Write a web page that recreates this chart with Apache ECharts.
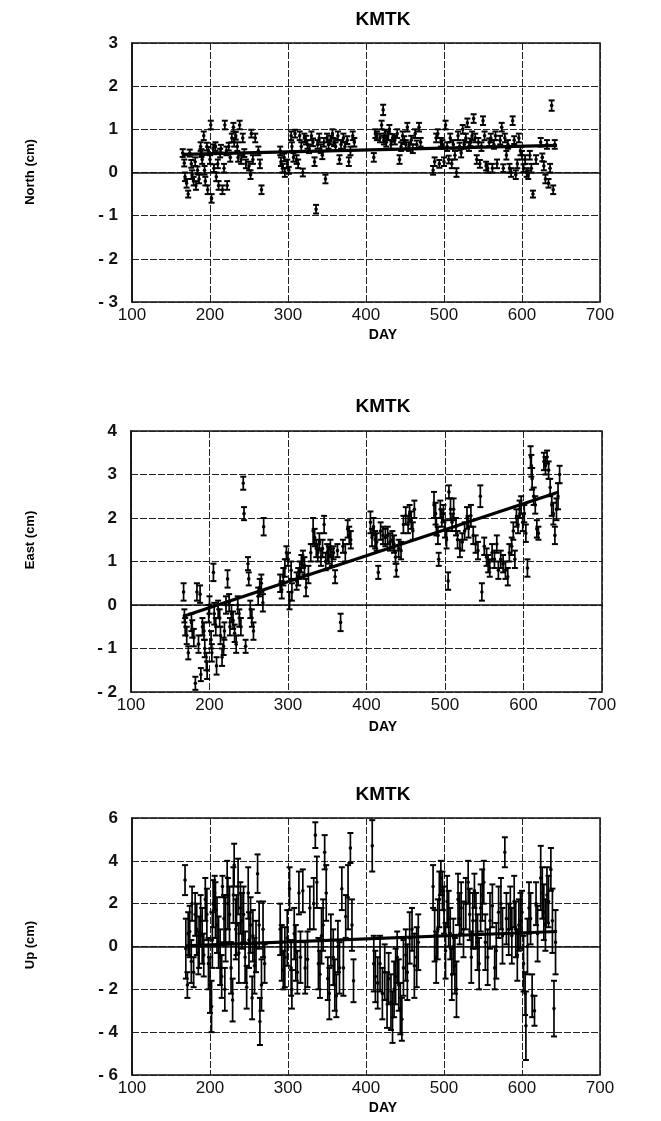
<!DOCTYPE html>
<html><head><meta charset="utf-8">
<script src="https://cdn.jsdelivr.net/npm/echarts@6/dist/echarts.min.js"></script>
<style>html,body{margin:0;padding:0;background:#fff}#c{width:661px;height:1121px}</style>
</head><body><div id="c"></div>
<script>
// ---- data: [day, value (cm), error half-width (cm)] ----
const dayTicks = [100, 700, 100]; // min, max, step
const northRange = [-3, 3, 1];
const eastRange = [-2, 4, 1];
const upRange = [-6, 6, 2];
const panelTitles = ['KMTK', 'KMTK', 'KMTK'];
const yNames = ['North (cm)', 'East (cm)', 'Up (cm)'];
const xName = 'DAY';

const northObs = [
[165,0.45,0.09],[167,0.22,0.08],[168,-0.1,0.1],[170,-0.25,0.1],[172,-0.5,0.08],
[174,0.45,0.08],[176,0.2,0.09],[177,-0.05,0.1],[179,-0.2,0.1],[181,0.25,0.1],[182,-0.3,0.1],[184,0.05,0.09],[186,-0.15,0.1],
[188,0.6,0.1],[189,0.45,0.09],[190,0.3,0.1],[192,0.85,0.1],[193,0.05,0.1],[194,-0.2,0.1],[196,0.6,0.09],[197,-0.4,0.1],
[198,0.5,0.09],[200,0.3,0.1],[201,1.1,0.1],[202,-0.6,0.1],[204,0.55,0.1],[205,0.1,0.09],[207,0.6,0.1],[208,-0.1,0.1],
[210,0.2,0.1],[211,-0.3,0.1],[213,0.45,0.1],[214,0.55,0.09],[216,-0.4,0.1],[218,0.1,0.1],[219,1.1,0.1],[221,0.5,0.1],
[222,-0.3,0.1],[224,0.6,0.09],[226,0.35,0.1],[228,0.8,0.1],[230,1.05,0.1],[231,0.7,0.1],[233,0.85,0.09],[235,0.6,0.1],
[236,0.35,0.1],[238,1.1,0.1],[240,0.3,0.1],[242,0.8,0.1],[244,0.45,0.09],[246,0.2,0.1],[250,0.15,0.1],[252,-0.05,0.1],
[253,0.9,0.09],[255,0.3,0.1],[258,0.8,0.1],[262,0.5,0.1],[264,0.2,0.1],[266,-0.4,0.1],
[290,0.5,0.1],[291,0.25,0.1],[293,0.1,0.1],[295,0.35,0.09],[296,0.0,0.1],[299,0.2,0.1],[301,0.05,0.08],
[304,0.85,0.1],[305,0.6,0.1],[307,0.35,0.1],[309,0.9,0.09],[311,0.3,0.1],[313,0.2,0.1],[315,0.85,0.1],[317,0.6,0.1],
[319,0.0,0.09],[321,0.8,0.1],[323,0.75,0.1],[325,0.65,0.1],[327,0.55,0.1],[330,0.85,0.1],[332,0.7,0.09],[334,0.25,0.1],
[336,-0.85,0.1],[338,0.65,0.1],[340,0.8,0.1],[342,0.55,0.1],[344,0.4,0.09],[346,0.7,0.1],[348,-0.15,0.1],[350,0.8,0.1],
[352,0.65,0.1],[355,0.75,0.1],[357,0.9,0.1],[359,0.7,0.09],[361,0.6,0.1],[364,0.85,0.1],[366,0.3,0.1],[368,0.65,0.1],
[371,0.8,0.1],[373,0.6,0.1],[376,0.75,0.09],[378,0.25,0.1],[380,0.5,0.1],[383,0.85,0.1],[385,0.7,0.1],
[410,0.35,0.1],[412,0.9,0.1],[414,0.85,0.1],[418,0.8,0.1],[420,1.1,0.1],[422,1.45,0.12],[423,0.75,0.1],[424,0.9,0.09],
[426,0.7,0.1],[428,0.85,0.1],[430,1.0,0.1],[432,0.65,0.1],[434,0.8,0.09],[437,0.75,0.1],[440,0.9,0.1],[443,0.3,0.1],
[445,0.6,0.1],[447,0.85,0.1],[449,0.75,0.09],[451,0.65,0.1],[453,1.05,0.1],[455,0.6,0.1],[458,0.75,0.1],[460,0.55,0.1],
[463,0.9,0.1],[465,0.65,0.09],[468,1.05,0.1],[470,0.7,0.1],
[486,0.05,0.1],[488,0.25,0.1],[490,0.8,0.1],[492,0.9,0.1],[494,0.2,0.09],[496,0.7,0.1],[498,0.65,0.1],[500,0.25,0.1],
[502,1.1,0.1],[504,0.6,0.1],[506,0.3,0.09],[508,0.8,0.1],[510,0.2,0.1],[512,0.65,0.1],[514,0.4,0.1],[516,0.0,0.1],
[518,0.85,0.1],[520,0.6,0.09],[522,0.45,0.1],[524,1.0,0.1],[526,0.65,0.1],[528,0.8,0.1],[530,1.15,0.1],[532,0.6,0.1],
[534,0.7,0.09],[536,0.85,0.1],[538,1.25,0.1],[540,0.8,0.1],[542,0.3,0.1],[544,0.7,0.1],[546,0.2,0.09],[548,0.6,0.1],
[550,1.2,0.1],[552,0.85,0.1],[554,0.15,0.1],[556,0.1,0.1],[558,0.7,0.09],[560,0.8,0.1],[562,0.1,0.1],[564,0.65,0.1],
[566,0.85,0.1],[568,0.2,0.1],[572,0.75,0.1],[574,1.05,0.1],[576,0.1,0.09],[578,0.8,0.1],[580,0.4,0.1],[582,0.65,0.1],
[584,0.1,0.1],[586,0.0,0.1],[588,1.2,0.1],[590,0.75,0.09],[592,-0.05,0.1],[594,0.2,0.1],[596,0.8,0.1],[598,0.5,0.1],
[600,0.4,0.1],[602,0.1,0.09],[604,0.3,0.1],[606,0.0,0.1],[608,-0.05,0.1],[610,0.4,0.1],[612,0.1,0.1],[614,-0.5,0.08],
[618,0.3,0.1],[624,0.7,0.1],[626,0.35,0.09],[628,0.15,0.1],[630,-0.15,0.1],[632,0.65,0.1],[634,-0.25,0.1],[636,0.1,0.1],
[638,1.55,0.12],[640,-0.4,0.1],[642,0.65,0.1]
];
const northFit = [[165,0.42],[645,0.63]];

const eastObs = [
[167,0.3,0.2],[168,-0.25,0.15],[169,-0.5,0.2],[171,-0.7,0.2],[173,-1.1,0.15],
[177,-0.4,0.2],[178,-0.55,0.2],[180,-0.75,0.2],[182,-1.8,0.15],[184,0.3,0.2],[186,-0.9,0.2],[188,0.25,0.2],[189,-1.6,0.15],[191,-0.5,0.2],
[193,-0.6,0.2],[194,-1.0,0.2],[196,-1.3,0.2],[197,-1.5,0.2],[199,-0.2,0.2],[200,0.0,0.2],[202,-0.8,0.2],[203,-1.1,0.2],
[205,0.75,0.2],[206,-0.2,0.25],[208,-0.5,0.2],[209,-1.4,0.2],
[211,-0.1,0.2],[213,-0.3,0.2],[214,-0.7,0.2],[216,-1.2,0.2],[218,-0.95,0.2],[219,-0.6,0.2],[221,0.0,0.2],[223,0.6,0.2],[225,0.05,0.2],[226,-0.5,0.2],
[228,-0.2,0.2],[230,-0.35,0.2],[232,-0.65,0.2],[234,-0.9,0.2],[236,0.0,0.2],[238,-0.3,0.2],[240,-0.5,0.2],[243,2.8,0.15],[244,2.1,0.15],[246,-0.95,0.15],
[249,0.95,0.15],[250,0.6,0.15],[252,-0.1,0.2],[254,-0.3,0.2],[256,-0.6,0.2],
[262,0.2,0.2],[264,0.4,0.2],[266,0.5,0.2],[268,0.05,0.2],[269,1.8,0.2],
[290,0.5,0.2],[292,0.35,0.2],[294,0.65,0.2],[296,0.85,0.2],[298,1.2,0.15],[300,1.05,0.15],[302,0.1,0.2],[304,0.8,0.2],[305,0.3,0.2],
[311,0.55,0.2],[313,0.65,0.2],[315,0.8,0.2],[317,0.95,0.2],[319,1.05,0.2],[321,0.9,0.2],[323,0.4,0.2],[326,0.7,0.2],[329,1.2,0.2],
[332,1.7,0.3],[334,1.55,0.2],[336,1.3,0.2],[338,1.2,0.2],[340,1.45,0.2],[342,1.1,0.2],[344,1.3,0.2],[346,1.85,0.2],[348,1.0,0.2],[350,1.2,0.2],
[352,1.15,0.2],[354,1.3,0.2],[356,1.1,0.2],[358,1.2,0.15],[360,0.65,0.15],[363,1.25,0.15],[367,-0.4,0.2],[370,1.35,0.15],[373,1.2,0.2],[376,1.75,0.2],[378,1.6,0.2],[380,1.5,0.2],
[405,1.9,0.25],[407,1.55,0.2],[409,1.8,0.2],[411,1.5,0.2],[413,1.45,0.2],[415,0.75,0.15],[418,1.7,0.2],[421,1.6,0.2],[424,1.55,0.2],
[427,1.6,0.2],[430,1.45,0.2],[433,1.5,0.2],[435,1.4,0.2],[437,1.1,0.15],[438,0.8,0.15],[441,1.3,0.2],[444,1.25,0.2],[447,1.85,0.2],[450,2.05,0.2],
[453,1.85,0.2],[455,2.1,0.2],[457,1.95,0.2],[459,1.7,0.2],[461,2.2,0.2],
[486,2.3,0.3],[488,2.1,0.25],[489,1.8,0.2],[491,1.6,0.2],[492,1.05,0.15],[494,2.2,0.2],[496,2.0,0.2],
[498,2.1,0.2],[500,1.75,0.2],[502,1.5,0.2],[504,0.55,0.2],[505,2.6,0.15],[507,2.2,0.25],[509,1.9,0.2],
[511,2.2,0.25],[514,1.8,0.2],[516,1.5,0.2],[519,1.3,0.2],[522,1.45,0.2],[525,1.7,0.2],
[528,2.0,0.25],[530,1.8,0.25],[533,2.05,0.25],[536,1.6,0.2],[539,1.4,0.2],[542,1.25,0.2],[545,2.5,0.25],[547,0.3,0.2],
[550,1.35,0.2],[553,1.1,0.2],[555,0.95,0.2],[557,0.85,0.2],[560,1.2,0.2],[563,1.05,0.2],[566,1.4,0.2],[568,0.8,0.2],
[571,1.05,0.2],[574,0.95,0.2],[577,0.8,0.2],[580,0.65,0.2],[582,1.2,0.2],[585,1.35,0.2],[587,1.7,0.2],[589,1.05,0.2],
[591,2.0,0.2],[593,1.85,0.2],[595,2.2,0.2],[597,2.3,0.2],[599,1.9,0.2],[601,2.1,0.2],[603,1.65,0.2],[605,0.85,0.2],
[609,3.4,0.25],[610,3.2,0.25],[611,2.9,0.25],[613,2.5,0.2],[615,2.3,0.2],[617,1.75,0.2],[619,1.65,0.15],
[626,3.3,0.2],[628,3.2,0.2],[630,3.4,0.15],[632,3.1,0.2],[634,2.7,0.2],[636,2.3,0.25],[638,2.1,0.25],[640,1.6,0.2],[642,2.2,0.25],[644,2.5,0.3],[646,3.0,0.2]
];
const eastFit = [[167,-0.26],[645,2.6]];

const upObs = [
[168,3.1,0.7],[169,-0.1,1.4],[171,-1.8,0.6],[172,0.6,1.0],
[174,0.7,1.2],[176,-0.7,1.0],[177,2.0,0.8],[179,-1.2,0.7],[181,1.5,1.0],[183,0.8,1.2],[185,-0.3,1.0],[186,0.2,1.2],
[188,1.2,1.2],[190,0.5,1.3],[192,-0.4,1.0],[194,2.2,1.0],[196,1.5,1.2],[198,-0.8,1.2],[200,-1.8,1.3],[202,-2.8,1.2],[203,0.3,1.3],[204,2.0,1.1],
[206,2.5,0.8],[207,1.7,1.3],[209,1.0,1.3],[211,0.2,1.2],[213,-0.5,1.3],[215,-1.4,1.0],[216,2.8,0.5],[218,1.3,1.1],[219,-2.0,1.0],[220,0.8,1.5],
[222,3.2,0.8],[223,2.0,1.2],[225,1.5,1.3],[227,-1.0,1.2],[229,-2.5,1.0],[230,2.4,1.3],[231,3.8,1.0],[233,0.8,1.4],[234,1.0,1.4],[236,2.8,1.3],[237,-0.3,1.4],
[239,1.8,1.2],[241,1.2,1.3],[243,1.5,1.3],[245,-0.5,1.2],[247,-1.9,1.0],[249,2.5,1.2],[250,0.3,1.3],[252,1.0,1.3],[254,-2.4,1.0],[255,0.5,1.2],
[257,-0.9,1.3],[259,0.0,1.2],[261,3.4,0.9],[263,1.0,1.1],[264,-3.5,1.1],[266,-1.8,1.2],[268,0.8,1.3],[270,-0.8,0.9],
[290,0.8,1.2],[292,-0.3,1.3],[294,-1.1,0.9],[296,-0.5,1.4],[299,0.4,1.3],[302,2.7,1.0],[304,-1.0,1.3],[305,-2.0,0.9],
[308,0.6,1.2],[310,-0.3,1.3],[312,-1.2,1.0],[314,2.5,1.0],[316,-0.5,1.2],[319,2.6,1.0],[322,-1.0,1.2],[325,-0.6,1.3],[328,1.8,1.0],
[333,2.0,1.2],[335,5.2,0.6],[337,3.0,1.2],[339,-0.8,1.2],[341,-1.3,1.1],[343,0.5,1.3],[345,1.0,1.2],[347,4.4,0.8],[349,2.5,1.3],[351,-1.5,1.0],[353,-2.2,1.2],[355,0.3,1.2],
[358,-0.5,1.3],[360,-1.8,1.2],[362,-2.3,1.0],[364,0.0,1.2],[366,-1.0,1.2],[369,2.7,1.0],[371,-1.0,1.3],[374,1.4,1.0],[377,2.3,1.5],[380,4.6,0.7],[382,1.0,1.2],[384,-1.6,1.0],
[408,4.7,1.2],[410,-0.8,1.3],[412,-1.4,1.2],[415,-1.7,1.2],[418,-0.8,1.3],[421,-2.2,1.2],[424,-1.2,1.3],[427,-2.5,1.3],[429,-1.5,1.2],
[432,-2.6,1.3],[434,-3.3,1.2],[436,-2.0,1.3],[438,-1.4,1.3],[440,-0.5,1.2],[442,-1.8,1.2],[444,-2.9,1.2],[446,-3.4,1.0],[448,-1.0,1.3],[451,-0.4,1.2],[453,-1.2,1.3],[456,0.4,1.2],[459,0.8,1.0],[462,-0.9,1.5],[465,-0.5,1.4],[467,0.2,1.3],
[486,2.8,1.0],[488,0.5,1.2],[490,-0.5,1.2],[492,0.8,1.4],[494,2.2,1.3],[496,3.2,0.8],[498,2.6,0.9],[500,1.7,1.1],[502,-0.2,1.3],[504,2.1,1.2],[506,1.3,1.3],[508,0.6,1.2],[510,-1.3,1.2],
[512,0.0,1.3],[514,-0.9,1.3],[516,-2.0,1.3],[518,2.2,1.2],[520,1.3,1.2],[522,1.8,1.2],[525,0.8,1.3],[528,2.0,1.2],[531,3.0,1.0],[533,1.5,1.2],[535,-0.5,1.2],[537,1.2,1.3],
[539,2.6,0.8],[541,1.2,1.3],[543,0.2,1.3],[545,-0.8,1.2],[547,1.8,1.1],[549,2.4,1.2],[551,3.0,1.0],[553,0.2,1.3],[556,-0.5,1.3],[559,1.2,1.3],[562,1.9,1.0],[565,-1.0,1.0],[567,-0.2,1.3],[570,1.6,1.2],
[573,2.0,1.2],[575,0.5,1.3],[578,4.4,0.7],[580,1.3,1.2],[583,0.8,1.2],[585,1.8,1.0],[587,0.5,1.3],[590,2.1,1.2],[592,0.8,1.3],[594,-0.4,1.2],[596,1.0,1.2],
[598,1.2,1.3],[600,1.6,1.0],[602,-0.8,1.3],[604,-2.2,1.0],[605,-3.7,1.6],[607,0.0,1.3],[609,1.8,1.2],[611,1.3,1.2],[613,-2.3,1.0],[616,-3.0,0.7],[618,2.0,1.0],[620,0.6,1.3],
[624,3.2,1.5],[626,2.5,1.2],[628,1.6,1.3],[630,1.0,1.2],[632,2.4,1.3],[634,2.1,1.2],[637,3.6,1.0],[639,1.2,1.5],[641,-2.9,1.3],[643,0.2,1.5]
];
const upFit = [[168,0.03],[645,0.7]];

// ---- layout ----
const grids = [
  {left:132, top:43, width:468, height:259},
  {left:131, top:431, width:471, height:261},
  {left:132, top:818, width:468, height:257}
];
const ranges = [northRange, eastRange, upRange];
const obs = [northObs, eastObs, upObs];
const fits = [northFit, eastFit, upFit];
const titleY = [20, 407, 795];
const titleX = [383, 383, 383];
const dayY = [335, 727, 1108];
const nameY = [172, 540, 945];
const FONT = '"Liberation Sans", Arial, sans-serif';

function negFmt(v){ return v < 0 ? '- ' + Math.abs(v) : String(v); }

function errRender(params, api){
  const x = api.value(0), y = api.value(1), e = api.value(2);
  const p = api.coord([x, y]);
  const t = api.coord([x, y + e]);
  const b = api.coord([x, y - e]);
  const w = 3;
  return {type:'group', children:[
    {type:'line', shape:{x1:p[0], y1:t[1], x2:p[0], y2:b[1]}, style:{stroke:'#000', lineWidth:1.7}},
    {type:'line', shape:{x1:p[0]-w, y1:t[1], x2:p[0]+w, y2:t[1]}, style:{stroke:'#000', lineWidth:2}},
    {type:'line', shape:{x1:p[0]-w, y1:b[1], x2:p[0]+w, y2:b[1]}, style:{stroke:'#000', lineWidth:2}},
    {type:'circle', shape:{cx:p[0], cy:p[1], r:1.8}, style:{fill:'#000'}}
  ]};
}

const splitStyle = {show:true, lineStyle:{color:'#222', width:1, type:[7,2]}};

const option = {
  animation:false,
  backgroundColor:'#fff',
  grid: grids.map(g => Object.assign({show:true, borderColor:'#111', borderWidth:1.5, backgroundColor:'transparent'}, g)),
  xAxis: grids.map((g,i) => ({
    type:'value', gridIndex:i, min:dayTicks[0], max:dayTicks[1], interval:dayTicks[2],
    axisLine:{show:true, lineStyle:{color:'#111', width:1.5}},
    axisTick:{show:false},
    splitLine:splitStyle,
    axisLabel:{color:'#111', fontSize:17, fontFamily:FONT, margin:5}
  })),
  yAxis: grids.map((g,i) => ({
    type:'value', gridIndex:i, min:ranges[i][0], max:ranges[i][1], interval:ranges[i][2],
    axisLine:{show:true, lineStyle:{color:'#111', width:1.5}},
    axisTick:{show:false},
    splitLine:splitStyle,
    axisLabel:{color:'#111', fontSize:17, fontFamily:FONT, fontWeight:'bold', margin:14, formatter:negFmt}
  })),
  series: [],
  graphic: []
};

obs.forEach((d,i) => {
  option.series.push({
    type:'custom', xAxisIndex:i, yAxisIndex:i, renderItem:errRender,
    dimensions:['day','val','err'], encode:{x:0, y:1}, data:d, clip:true, z:3
  });
  option.series.push({
    type:'line', xAxisIndex:i, yAxisIndex:i, data:fits[i], symbol:'none',
    lineStyle:{color:'#000', width:3.2}, z:4
  });
  option.graphic.push({type:'text', x:titleX[i], y:titleY[i],
    style:{text:panelTitles[i], fill:'#000', font:'bold 19px ' + FONT, textAlign:'center', textVerticalAlign:'middle'}});
  option.graphic.push({type:'text', x:titleX[i], y:dayY[i],
    style:{text:xName, fill:'#000', font:'bold 14px ' + FONT, textAlign:'center', textVerticalAlign:'middle'}});
  option.graphic.push({type:'text', x:30, y:nameY[i], rotation:Math.PI/2,
    style:{text:yNames[i], fill:'#000', font:'bold 13px ' + FONT, textAlign:'center', textVerticalAlign:'middle'}});
});

const chart = echarts.init(document.getElementById('c'), null, {renderer:'canvas'});
chart.setOption(option);
</script>
</body></html>
